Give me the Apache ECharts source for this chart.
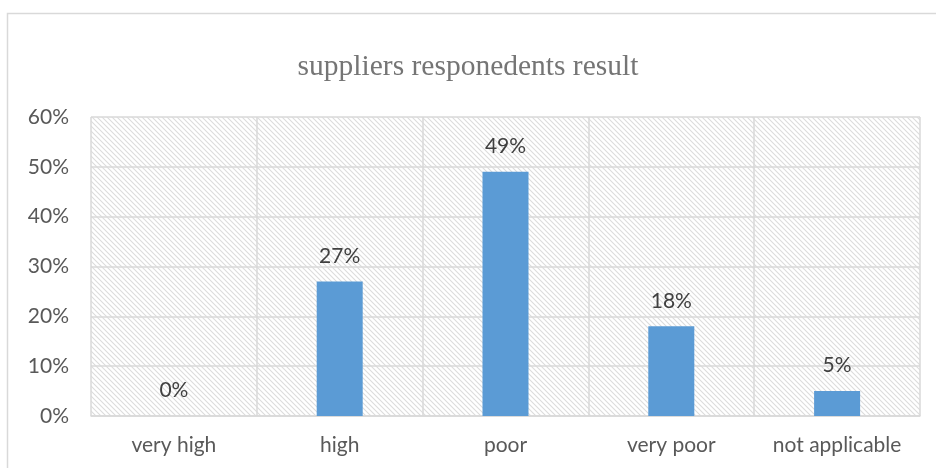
<!DOCTYPE html>
<html><head><meta charset="utf-8">
<script src="https://cdn.jsdelivr.net/npm/echarts@6/dist/echarts.min.js"></script>
<style>html,body{margin:0;padding:0;background:#fff}#c{width:936px;height:468px}</style>
</head><body><div id="c"></div>
<script>
const categories = ['very high', 'high', 'poor', 'very poor', 'not applicable'];
const values = [0, 27, 49, 18, 5];
const yTicks = [0, 10, 20, 30, 40, 50, 60];

function hatch() {
  const s = 5;
  const cv = document.createElement('canvas');
  cv.width = s; cv.height = s;
  const ctx = cv.getContext('2d');
  ctx.fillStyle = '#ffffff';
  ctx.fillRect(0, 0, s, s);
  ctx.strokeStyle = '#dcdcdc';
  ctx.lineWidth = 1.1;
  ctx.beginPath();
  ctx.moveTo(-1, -1); ctx.lineTo(s + 1, s + 1);
  ctx.moveTo(-1, s - 1); ctx.lineTo(1, s + 1);
  ctx.moveTo(s - 1, -1); ctx.lineTo(s + 1, 1);
  ctx.stroke();
  return cv;
}

const chart = echarts.init(document.getElementById('c'), null, {renderer: 'canvas'});
const font = 'Lato, "Open Sans", sans-serif';
chart.setOption({
  animation: false,
  title: {
    text: 'suppliers responedents result',
    left: 'center', top: 47,
    textStyle: {fontFamily: '"Liberation Serif", "DejaVu Serif", serif', fontWeight: 'normal', fontSize: 29.5, color: '#757575'}
  },
  graphic: [{
    type: 'rect', left: 5, top: 11, shape: {width: 940, height: 470},
    style: {fill: 'none', stroke: '#d9d9d9', lineWidth: 1.5}, silent: true, z: -10
  }],
  grid: {
    left: 91, right: 16, top: 117, bottom: 52,
    show: true, borderWidth: 0,
    backgroundColor: {image: hatch(), repeat: 'repeat'}
  },
  xAxis: {
    type: 'category', data: categories,
    axisLine: {show: true, lineStyle: {color: '#d9d9d9', width: 1.5}},
    axisTick: {show: false},
    splitLine: {show: true, interval: 0, lineStyle: {color: '#d9d9d9', width: 1.5}},
    axisLabel: {interval: 0, hideOverlap: false, fontFamily: font, fontSize: 21, color: '#595959', margin: 19}
  },
  yAxis: {
    type: 'value', min: yTicks[0], max: yTicks[yTicks.length - 1], interval: 10,
    axisLine: {show: false}, axisTick: {show: false},
    splitLine: {show: true, lineStyle: {color: '#d9d9d9', width: 1.5}},
    axisLabel: {formatter: v => v + '%', fontFamily: font, fontSize: 21, color: '#595959', margin: 22}
  },
  series: [{
    type: 'bar', data: values, barWidth: 46,
    itemStyle: {color: '#5b9bd5'},
    label: {show: true, position: 'top', distance: 15, formatter: p => p.value + '%', fontFamily: font, fontSize: 21, color: '#404040'}
  }]
});
</script></body></html>
